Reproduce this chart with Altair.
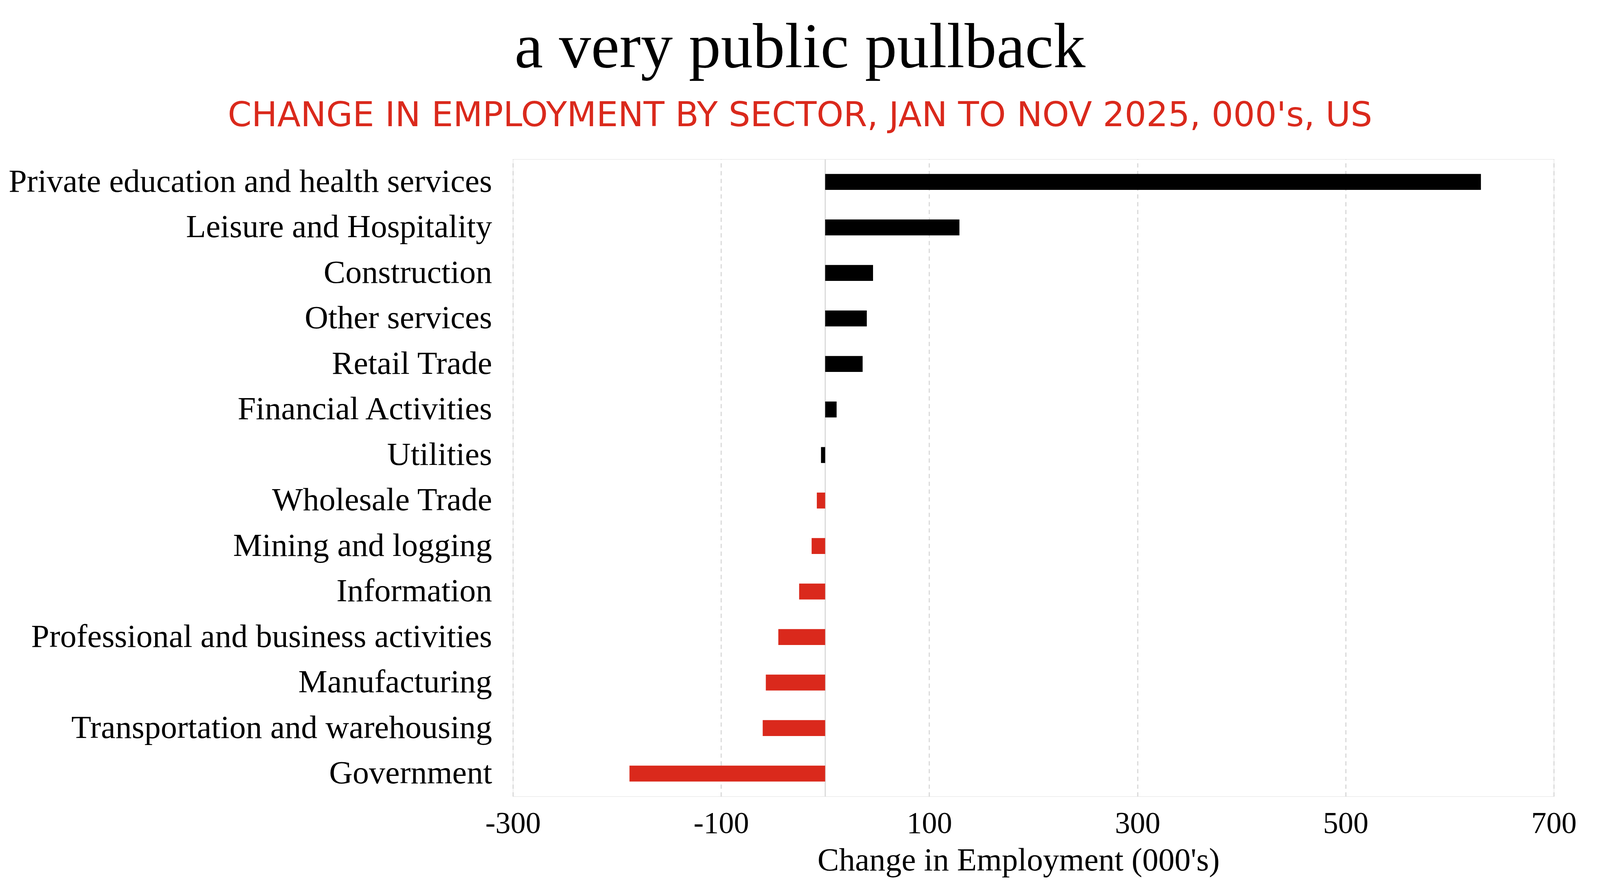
import altair as alt
import pandas as pd

sectors = [
    "Private education and health services",
    "Leisure and Hospitality",
    "Construction",
    "Other services",
    "Retail Trade",
    "Financial Activities",
    "Utilities",
    "Wholesale Trade",
    "Mining and logging",
    "Information",
    "Professional and business activities",
    "Manufacturing",
    "Transportation and warehousing",
    "Government",
]
changes = [630, 129, 46, 40, 36, 11, -4, -8, -13, -25, -45, -57, -60, -188]
groups = ["up"] * 7 + ["down"] * 7
grid_values = [-300, -100, 0, 100, 300, 500, 700]

df = pd.DataFrame({"sector": sectors, "change": changes, "group": groups})

RED = "#da291c"
SERIF = "Liberation Serif"

bars = alt.Chart(df).mark_bar().encode(
    y=alt.Y(
        "sector:N",
        sort=sectors,
        title=None,
        scale=alt.Scale(paddingInner=0.65, paddingOuter=0.325),
        axis=alt.Axis(
            labelFont=SERIF,
            labelFontSize=84,
            labelColor="#000000",
            labelPadding=54,
            labelLimit=0,
            ticks=False,
            tickSize=0,
            domain=False,
            grid=False,
        ),
    ),
    x=alt.X(
        "change:Q",
        title="Change in Employment (000's)",
        scale=alt.Scale(domain=[-300, 700], nice=False, zero=False),
        axis=alt.Axis(
            values=grid_values,
            labelExpr="datum.value == 0 ? '' : '' + datum.value",
            labelFlush=False,
            labelFont=SERIF,
            labelFontSize=78,
            labelColor="#000000",
            labelPadding=32,
            ticks=False,
            tickSize=0,
            domain=False,
            grid=True,
            gridColor="#d9d9d9",
            gridDash=alt.condition("datum.value == 0", alt.value([1, 0]), alt.value([11, 9])),
            gridWidth=3,
            titleFont=SERIF,
            titleFontSize=83,
            titleFontWeight="normal",
            titleColor="#000000",
            titlePadding=14,
            titleX=1302,
            titleAlign="center",
        ),
    ),
    color=alt.Color(
        "group:N",
        scale=alt.Scale(domain=["up", "down"], range=["#000000", RED]),
        legend=None,
    ),
)

chart = bars.properties(
    width=2681,
    height=1641,
    padding={"left": 1313, "top": 395, "right": 111, "bottom": 221},
    autosize=alt.AutoSizeParams(type="none"),
    title=alt.TitleParams(
        text="a very public pullback",
        subtitle="CHANGE IN EMPLOYMENT BY SECTOR, JAN TO NOV 2025, 000's, US",
        font=SERIF,
        fontSize=165,
        fontWeight="normal",
        color="#000000",
        subtitleFont="DejaVu Sans",
        subtitleFontSize=88,
        subtitleColor=RED,
        subtitlePadding=47,
        anchor="middle",
        frame="group",
        dx=-601,
        offset=65,
    ),
).configure_view(stroke="transparent", strokeWidth=0, strokeOpacity=0).configure(
    background="white"
)

chart.save("out.html", embed_options={"renderer": "svg", "actions": False})
